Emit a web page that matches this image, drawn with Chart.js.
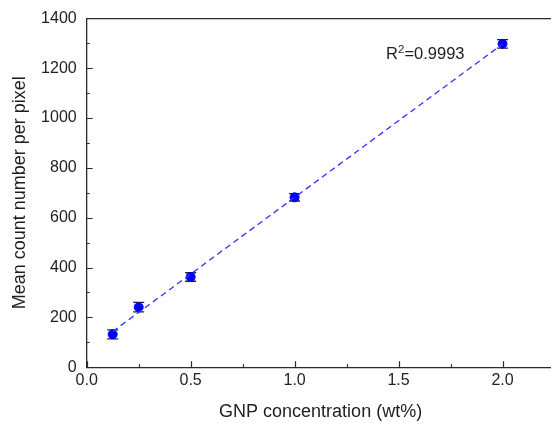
<!DOCTYPE html>
<html>
<head>
<meta charset="utf-8">
<script src="https://cdn.jsdelivr.net/npm/chart.js@4/dist/chart.umd.min.js"></script>
<style>
  html, body { margin: 0; padding: 0; background: #fff; width: 551px; height: 428px; overflow: hidden; }
  #wrap { width: 560px; height: 428px; }
</style>
</head>
<body>
<div id="wrap"><canvas id="chart" width="560" height="428"></canvas></div>
<script>
var concentration = [0.125, 0.25, 0.5, 1.0, 2.0];
var meanCount = [132, 241, 362, 682, 1298];
var countErr = [18, 19, 17, 15, 17];

// linear fit, drawn between first and last point
var fitX = [0.125, 2.0];
var fitY = [143, 1297];
var r2Value = '0.9993';

var xTitle = 'GNP concentration (wt%)';
var yTitle = 'Mean count number per pixel';

var axisColor = '#2b2b2b';
var textColor = '#1e1e1e';
var fontFamily = '"Liberation Sans", Arial, sans-serif';

function isMajor(v, step) {
    var q = v / step;
    return Math.abs(q - Math.round(q)) < 1e-6;
}

// ticks point into the plot, long on labelled values, short in between
var inwardTicks = {
    id: 'inwardTicks',
    afterDraw: function(chart) {
        var ctx = chart.ctx, area = chart.chartArea;
        var xs = chart.scales.x, ys = chart.scales.y;
        ctx.save();
        ctx.strokeStyle = axisColor;
        ctx.lineWidth = 1.2;
        ctx.beginPath();
        xs.ticks.forEach(function(t) {
            var px = Math.round(xs.getPixelForValue(t.value)) + 0.5;
            var len = isMajor(t.value, 0.5) ? 6 : 3;
            ctx.moveTo(px, area.bottom);
            ctx.lineTo(px, area.bottom - len);
        });
        ys.ticks.forEach(function(t) {
            var py = Math.round(ys.getPixelForValue(t.value)) + 0.5;
            var len = isMajor(t.value, 200) ? 6 : 3;
            ctx.moveTo(area.left, py);
            ctx.lineTo(area.left + len, py);
        });
        ctx.stroke();
        ctx.restore();
    }
};

var errorBars = {
    id: 'errorBars',
    beforeDatasetsDraw: function(chart) {
        var ctx = chart.ctx;
        var xs = chart.scales.x, ys = chart.scales.y;
        ctx.save();
        ctx.strokeStyle = '#222';
        ctx.lineWidth = 1.3;
        ctx.beginPath();
        concentration.forEach(function(c, i) {
            var px = xs.getPixelForValue(c);
            var top = ys.getPixelForValue(meanCount[i] + countErr[i]);
            var bot = ys.getPixelForValue(meanCount[i] - countErr[i]);
            ctx.moveTo(px, top); ctx.lineTo(px, bot);
            ctx.moveTo(px - 5.5, top); ctx.lineTo(px + 5.5, top);
            ctx.moveTo(px - 5.5, bot); ctx.lineTo(px + 5.5, bot);
        });
        ctx.stroke();
        ctx.restore();
    }
};

var r2Label = {
    id: 'r2Label',
    afterDatasetsDraw: function(chart) {
        var ctx = chart.ctx;
        var px = chart.scales.x.getPixelForValue(1.44);
        var py = chart.scales.y.getPixelForValue(1263);
        ctx.save();
        ctx.fillStyle = textColor;
        ctx.textBaseline = 'alphabetic';
        ctx.textAlign = 'left';
        ctx.font = '16.5px ' + fontFamily;
        var base = py + 6;
        ctx.fillText('R', px, base);
        var w = ctx.measureText('R').width;
        ctx.font = '11.5px ' + fontFamily;
        ctx.fillText('2', px + w, base - 6);
        var w2 = ctx.measureText('2').width;
        ctx.font = '16.5px ' + fontFamily;
        ctx.fillText('=' + r2Value, px + w + w2, base);
        ctx.restore();
    }
};

var points = concentration.map(function(c, i) { return {x: c, y: meanCount[i]}; });
var fitLine = fitX.map(function(c, i) { return {x: c, y: fitY[i]}; });

new Chart(document.getElementById('chart'), {
    type: 'scatter',
    data: {
        datasets: [{
            type: 'line',
            data: fitLine,
            borderColor: '#2f2fff',
            borderWidth: 1.3,
            borderDash: [6, 4],
            pointRadius: 0,
            fill: false
        }, {
            data: points,
            backgroundColor: '#0000ff',
            borderColor: '#0000ff',
            pointRadius: 4.5,
            showLine: false
        }]
    },
    options: {
        responsive: false,
        animation: false,
        layout: { padding: { top: 13, right: 2, bottom: 5, left: 9.5 } },
        plugins: { legend: { display: false }, tooltip: { enabled: false } },
        scales: {
            x: {
                type: 'linear',
                position: 'bottom',
                min: 0,
                max: 2.25,
                grid: { drawOnChartArea: false, drawTicks: false },
                border: { display: true, color: axisColor, width: 1.3 },
                ticks: {
                    stepSize: 0.25,
                    autoSkip: false,
                    maxRotation: 0,
                    padding: 4,
                    color: textColor,
                    font: { family: fontFamily, size: 16 },
                    callback: function(v) { return isMajor(v, 0.5) ? v.toFixed(1) : ''; }
                },
                title: {
                    display: true,
                    text: xTitle,
                    color: textColor,
                    font: { family: fontFamily, size: 18 },
                    padding: { top: 7, bottom: 0 }
                }
            },
            xTop: {
                type: 'linear',
                position: 'top',
                min: 0,
                max: 2.25,
                grid: { drawOnChartArea: false, drawTicks: false },
                border: { display: true, color: axisColor, width: 1.3 },
                ticks: { display: false }
            },
            y: {
                type: 'linear',
                min: 0,
                max: 1400,
                grid: { drawOnChartArea: false, drawTicks: false },
                border: { display: true, color: axisColor, width: 1.3 },
                ticks: {
                    stepSize: 100,
                    autoSkip: false,
                    padding: 10,
                    color: textColor,
                    font: { family: fontFamily, size: 16, lineHeight: 1.05 },
                    callback: function(v) { return isMajor(v, 200) ? String(v) : ''; }
                },
                title: {
                    display: true,
                    text: yTitle,
                    color: textColor,
                    font: { family: fontFamily, size: 18 },
                    padding: { top: 0, bottom: 0 }
                }
            }
        }
    },
    plugins: [inwardTicks, errorBars, r2Label]
});
</script>
</body>
</html>
